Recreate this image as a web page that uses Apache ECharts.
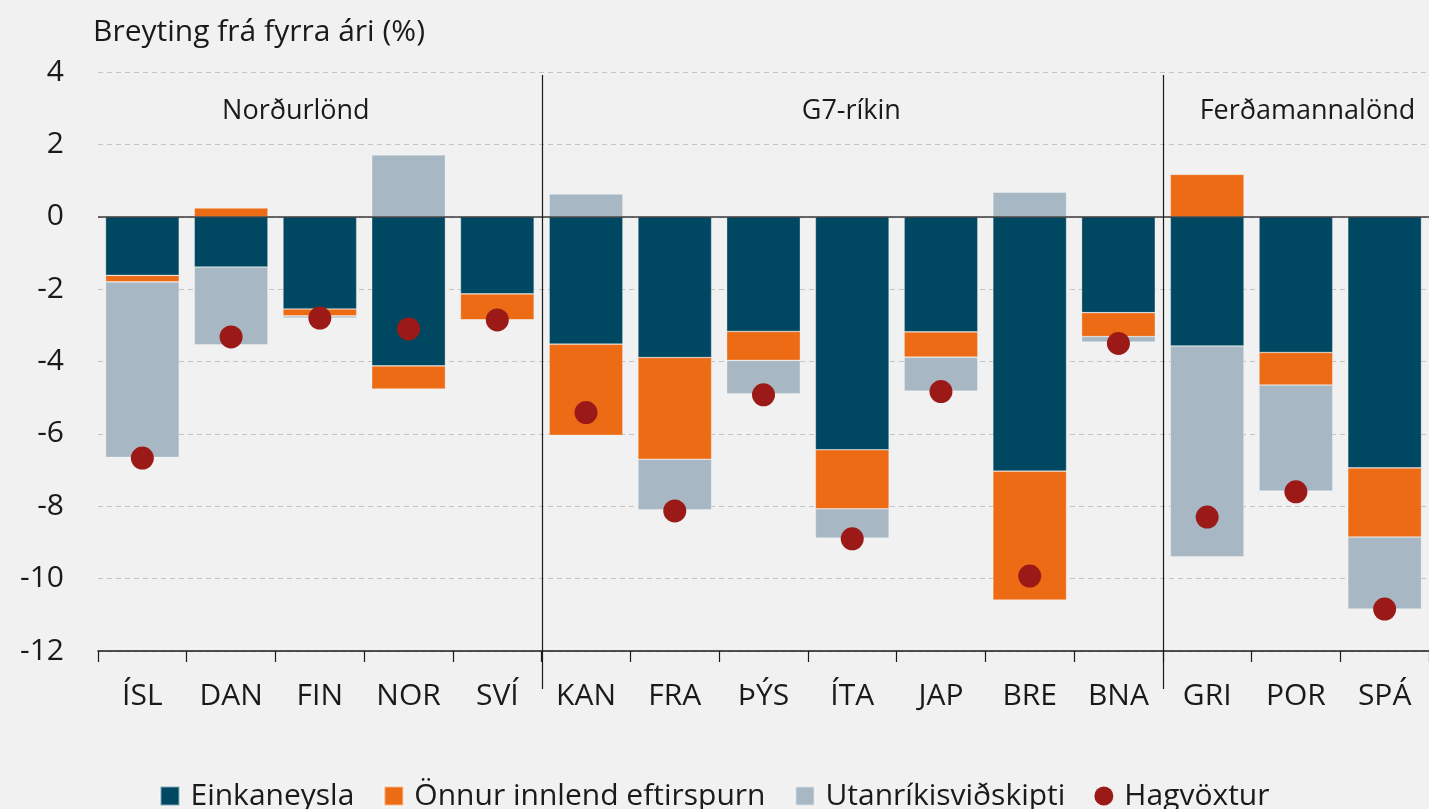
<!DOCTYPE html>
<html>
<head>
<meta charset="utf-8">
<script src="https://cdn.jsdelivr.net/npm/echarts@6/dist/echarts.min.js"></script>
<style>
html, body { margin: 0; padding: 0; background: #f1f1f1; }
#main { width: 1429px; height: 809px; }
</style>
</head>
<body>
<div id="main"></div>
<script>
// gögn
var categories = ['ÍSL', 'DAN', 'FIN', 'NOR', 'SVÍ', 'KAN', 'FRA', 'ÞÝS', 'ÍTA', 'JAP', 'BRE', 'BNA', 'GRI', 'POR', 'SPÁ'];
var einkaneysla = [-1.62, -1.39, -2.55, -4.12, -2.13, -3.52, -3.89, -3.17, -6.44, -3.18, -7.03, -2.65, -3.57, -3.75, -6.94];
var onnurInnlend = [-0.18, 0.24, -0.19, -0.64, -0.72, -2.52, -2.81, -0.80, -1.63, -0.70, -3.56, -0.66, 1.17, -0.90, -1.91];
var utanrikis = [-4.85, -2.15, -0.06, 1.71, 0, 0.63, -1.40, -0.92, -0.81, -0.94, 0.68, -0.15, -5.83, -2.93, -1.99];
var hagvoxtur = [-6.67, -3.32, -2.80, -3.10, -2.85, -5.41, -8.13, -4.92, -8.90, -4.83, -9.93, -3.50, -8.30, -7.60, -10.84];
var seriesNames = ['Einkaneysla', 'Önnur innlend eftirspurn', 'Utanríkisviðskipti', 'Hagvöxtur'];
var groupNames = ['Norðurlönd', 'G7-ríkin', 'Ferðamannalönd'];
var groupLabelX = [1.73, 7.99, 13.13];
var groupLabelY = 2.9;
var groupBreaks = [4.5, 11.5];
var yMin = -12, yMax = 4, yStep = 2;

var colors = ['#004862', '#ec6b14', '#a7b8c4', '#9b1a17'];
var fontFam = '"Open Sans", Lato, sans-serif';

var chart = echarts.init(document.getElementById('main'));

function barSeries(name, data, color) {
    return {
        name: name,
        type: 'bar',
        stack: 'alls',
        data: data,
        barCategoryGap: '17%',
        itemStyle: { color: color, borderColor: 'rgba(255,255,255,0.5)', borderWidth: 0.6 },
        animation: false
    };
}

var s1 = barSeries(seriesNames[0], einkaneysla, colors[0]);
// núll-lína
s1.markLine = {
    silent: true,
    symbol: 'none',
    label: { show: false },
    lineStyle: { color: '#3a3a3a', width: 1.5, type: 'solid' },
    data: [{ yAxis: 0 }],
    animation: false
};

var option = {
    backgroundColor: '#f1f1f1',
    animation: false,
    textStyle: { fontFamily: fontFam },
    title: {
        text: 'Breyting frá fyrra ári (%)',
        left: 88, top: 12,
        textStyle: { fontFamily: fontFam, fontSize: 30, fontWeight: 'normal', color: '#1a1a1a' }
    },
    grid: { left: 98, right: -3, top: 72, bottom: 158 },
    legend: {
        data: [
            { name: seriesNames[0], icon: 'rect' },
            { name: seriesNames[1], icon: 'rect' },
            { name: seriesNames[2], icon: 'rect' },
            { name: seriesNames[3], icon: 'circle' }
        ],
        left: 'center', top: 776,
        itemWidth: 19, itemHeight: 19, itemGap: 29,
        textStyle: { fontFamily: fontFam, fontSize: 30, color: '#1a1a1a', padding: [0, 0, 0, 6] }
    },
    xAxis: [{
        type: 'category',
        data: categories,
        axisLine: { onZero: false, lineStyle: { color: '#1a1a1a', width: 1.5 } },
        axisTick: { show: true, length: 11, lineStyle: { color: '#1a1a1a', width: 1.2 } },
        axisLabel: { fontFamily: fontFam, fontSize: 30, color: '#1a1a1a', margin: 30 },
        splitLine: { show: false }
    }, {
        type: 'value',
        min: -0.5, max: 14.5,
        show: false
    }],
    yAxis: {
        type: 'value',
        min: yMin, max: yMax, interval: yStep,
        axisLine: { show: false },
        axisTick: { show: false },
        axisLabel: { fontFamily: fontFam, fontSize: 30, color: '#1a1a1a', margin: 34 },
        splitLine: { lineStyle: { color: '#c4c4c4', type: [5, 4], width: 1 } }
    },
    series: [
        s1,
        barSeries(seriesNames[1], onnurInnlend, colors[1]),
        barSeries(seriesNames[2], utanrikis, colors[2]),
        {
            name: seriesNames[3],
            type: 'scatter',
            data: hagvoxtur,
            symbolSize: 23,
            z: 5,
            itemStyle: { color: colors[3], opacity: 1 },
            animation: false
        }
    ]
};

chart.setOption(option);

// hópalínur og hópaheiti
function drawGroups() {
    var els = [];
    var yTop = chart.convertToPixel({ yAxisIndex: 0 }, yMax);
    var yBot = chart.convertToPixel({ yAxisIndex: 0 }, yMin) + 38;
    groupBreaks.forEach(function (b) {
        var x = Math.round(chart.convertToPixel({ xAxisIndex: 1 }, b)) + 0.5;
        els.push({
            type: 'line', silent: true, z: 10,
            shape: { x1: x, y1: yTop + 3, x2: x, y2: yBot },
            style: { stroke: '#1a1a1a', lineWidth: 1.2 }
        });
    });
    groupNames.forEach(function (n, i) {
        els.push({
            type: 'text', silent: true, z: 10,
            x: chart.convertToPixel({ xAxisIndex: 1 }, groupLabelX[i]),
            y: chart.convertToPixel({ yAxisIndex: 0 }, groupLabelY),
            style: {
                text: n, fill: '#1a1a1a', font: '27px ' + fontFam,
                textAlign: 'center', textVerticalAlign: 'middle'
            }
        });
    });
    chart.setOption({ graphic: els });
}
drawGroups();
</script>
</body>
</html>
